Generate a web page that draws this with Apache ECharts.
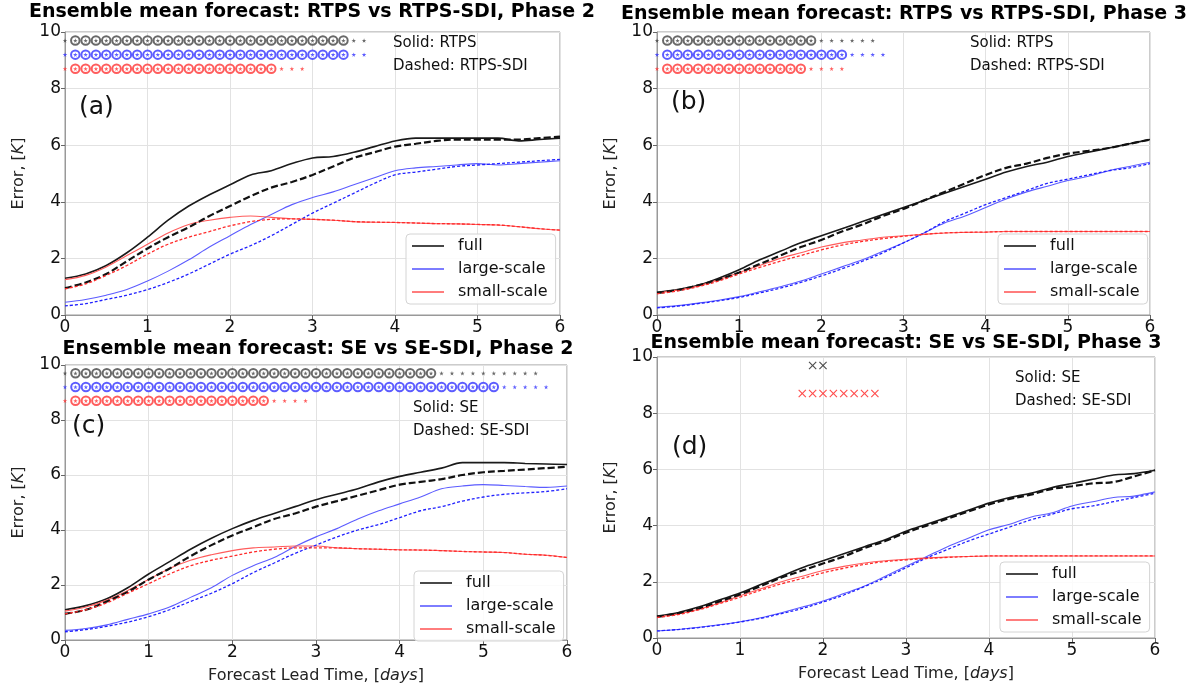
<!DOCTYPE html>
<html>
<head>
<meta charset="utf-8">
<script src="https://cdn.jsdelivr.net/npm/echarts@6/dist/echarts.min.js"></script>
<style>
  html, body { margin: 0; padding: 0; background: #fff; }
  #chart { width: 1192px; height: 691px; }
</style>
</head>
<body>
<div id="chart"></div>
<script>
// lead time (days), one point every 6 h
var leadDays = [0, 0.25, 0.5, 0.75, 1, 1.25, 1.5, 1.75, 2, 2.25, 2.5, 2.75, 3, 3.25, 3.5, 3.75, 4, 4.25, 4.5, 4.75, 5, 5.25, 5.5, 5.75, 6]

// (a) RTPS vs RTPS-SDI, phase 2
var aFullSolid = [1.3, 1.45, 1.75, 2.2, 2.75, 3.35, 3.85, 4.25, 4.6, 4.95, 5.1, 5.35, 5.55, 5.6, 5.75, 5.95, 6.15, 6.25, 6.25, 6.25, 6.25, 6.25, 6.15, 6.2, 6.25]
var aFullDash = [0.95, 1.15, 1.45, 1.9, 2.35, 2.75, 3.1, 3.5, 3.85, 4.2, 4.5, 4.7, 4.95, 5.25, 5.55, 5.75, 5.95, 6.05, 6.15, 6.2, 6.2, 6.2, 6.2, 6.25, 6.3]
var aLargeSolid = [0.45, 0.55, 0.7, 0.9, 1.2, 1.55, 1.95, 2.4, 2.8, 3.2, 3.55, 3.9, 4.15, 4.35, 4.6, 4.85, 5.1, 5.2, 5.25, 5.3, 5.35, 5.3, 5.35, 5.4, 5.45]
var aLargeDash = [0.32, 0.4, 0.55, 0.7, 0.9, 1.15, 1.45, 1.8, 2.15, 2.45, 2.8, 3.2, 3.6, 3.95, 4.3, 4.65, 4.95, 5.05, 5.15, 5.25, 5.3, 5.35, 5.4, 5.45, 5.5]
var aSmallSolid = [1.25, 1.4, 1.7, 2.1, 2.5, 2.9, 3.2, 3.35, 3.45, 3.5, 3.45, 3.4, 3.38, 3.35, 3.3, 3.28, 3.27, 3.25, 3.23, 3.22, 3.2, 3.18, 3.12, 3.05, 3.0]
var aSmallDash = [0.92, 1.1, 1.4, 1.75, 2.15, 2.5, 2.75, 2.95, 3.15, 3.3, 3.38, 3.4, 3.38, 3.35, 3.3, 3.28, 3.27, 3.25, 3.23, 3.22, 3.2, 3.18, 3.12, 3.05, 3.0]

// (b) RTPS vs RTPS-SDI, phase 3
var bFullSolid = [0.8, 0.9, 1.05, 1.3, 1.6, 1.95, 2.25, 2.55, 2.8, 3.05, 3.3, 3.55, 3.8, 4.05, 4.3, 4.55, 4.8, 5.05, 5.25, 5.4, 5.6, 5.75, 5.9, 6.05, 6.2]
var bFullDash = [0.78, 0.88, 1.05, 1.25, 1.5, 1.8, 2.1, 2.4, 2.65, 2.95, 3.2, 3.5, 3.75, 4.05, 4.35, 4.65, 4.95, 5.2, 5.35, 5.55, 5.7, 5.8, 5.9, 6.05, 6.2]
var bLargeSolid = [0.27, 0.33, 0.42, 0.52, 0.65, 0.82, 1.0, 1.2, 1.45, 1.7, 1.95, 2.25, 2.55, 2.9, 3.25, 3.5, 3.8, 4.1, 4.35, 4.55, 4.75, 4.9, 5.1, 5.25, 5.4]
var bLargeDash = [0.25, 0.31, 0.4, 0.5, 0.62, 0.78, 0.95, 1.15, 1.38, 1.63, 1.9, 2.2, 2.55, 2.9, 3.3, 3.6, 3.9, 4.15, 4.4, 4.65, 4.8, 4.95, 5.1, 5.2, 5.35]
var bSmallSolid = [0.78, 0.88, 1.02, 1.25, 1.5, 1.75, 2.0, 2.2, 2.4, 2.55, 2.65, 2.75, 2.8, 2.85, 2.9, 2.92, 2.93, 2.95, 2.95, 2.95, 2.95, 2.95, 2.95, 2.95, 2.95]
var bSmallDash = [0.75, 0.85, 1.0, 1.2, 1.45, 1.68, 1.9, 2.1, 2.3, 2.47, 2.6, 2.7, 2.78, 2.85, 2.9, 2.92, 2.93, 2.95, 2.95, 2.95, 2.95, 2.95, 2.95, 2.95, 2.95]

// (c) SE vs SE-SDI, phase 2
var cFullSolid = [1.1, 1.25, 1.5, 1.9, 2.4, 2.85, 3.3, 3.7, 4.05, 4.35, 4.6, 4.85, 5.1, 5.3, 5.5, 5.75, 5.95, 6.1, 6.25, 6.45, 6.45, 6.45, 6.42, 6.4, 6.38]
var cFullDash = [0.95, 1.1, 1.4, 1.75, 2.2, 2.6, 3.05, 3.45, 3.8, 4.1, 4.4, 4.6, 4.85, 5.05, 5.25, 5.45, 5.65, 5.75, 5.85, 6.0, 6.1, 6.15, 6.2, 6.25, 6.3]
var cLargeSolid = [0.35, 0.42, 0.55, 0.75, 0.95, 1.2, 1.55, 1.9, 2.35, 2.7, 3.0, 3.4, 3.75, 4.05, 4.4, 4.7, 4.95, 5.2, 5.5, 5.6, 5.65, 5.62, 5.58, 5.55, 5.6]
var cLargeDash = [0.3, 0.38, 0.5, 0.65, 0.85, 1.1, 1.4, 1.7, 2.05, 2.45, 2.8, 3.15, 3.45, 3.75, 4.0, 4.2, 4.45, 4.7, 4.85, 5.05, 5.2, 5.3, 5.35, 5.4, 5.5]
var cSmallSolid = [1.05, 1.2, 1.45, 1.8, 2.2, 2.6, 2.9, 3.1, 3.25, 3.35, 3.38, 3.42, 3.42, 3.35, 3.32, 3.3, 3.28, 3.27, 3.25, 3.22, 3.2, 3.18, 3.12, 3.08, 3.0]
var cSmallDash = [0.95, 1.1, 1.35, 1.7, 2.05, 2.4, 2.7, 2.9, 3.05, 3.2, 3.3, 3.35, 3.35, 3.35, 3.32, 3.3, 3.28, 3.27, 3.25, 3.22, 3.2, 3.18, 3.12, 3.08, 3.0]

// (d) SE vs SE-SDI, phase 3
var dFullSolid = [0.78, 0.9, 1.1, 1.35, 1.6, 1.9, 2.2, 2.5, 2.75, 3.0, 3.25, 3.5, 3.8, 4.05, 4.3, 4.55, 4.8, 5.0, 5.15, 5.35, 5.5, 5.65, 5.8, 5.85, 5.97]
var dFullDash = [0.75, 0.88, 1.05, 1.3, 1.55, 1.85, 2.15, 2.4, 2.65, 2.9, 3.2, 3.45, 3.75, 4.0, 4.25, 4.5, 4.75, 4.95, 5.1, 5.3, 5.4, 5.5, 5.55, 5.75, 5.97]
var dLargeSolid = [0.25, 0.3, 0.38, 0.47, 0.58, 0.72, 0.9, 1.1, 1.32, 1.58, 1.85, 2.2, 2.55, 2.9, 3.25, 3.55, 3.85, 4.05, 4.3, 4.45, 4.7, 4.85, 5.0, 5.05, 5.2]
var dLargeDash = [0.25, 0.3, 0.37, 0.46, 0.57, 0.7, 0.87, 1.05, 1.28, 1.53, 1.83, 2.15, 2.5, 2.85, 3.15, 3.45, 3.7, 3.95, 4.2, 4.4, 4.6, 4.7, 4.85, 5.0, 5.15]
var dSmallSolid = [0.75, 0.85, 1.02, 1.25, 1.5, 1.75, 2.0, 2.2, 2.4, 2.55, 2.67, 2.75, 2.8, 2.85, 2.88, 2.9, 2.92, 2.92, 2.92, 2.92, 2.92, 2.92, 2.92, 2.92, 2.92]
var dSmallDash = [0.73, 0.83, 1.0, 1.22, 1.45, 1.7, 1.93, 2.12, 2.32, 2.48, 2.62, 2.72, 2.78, 2.83, 2.87, 2.9, 2.92, 2.92, 2.92, 2.92, 2.92, 2.92, 2.92, 2.92, 2.92]

// significance rows (every 3 h): total markers per row and how many of them (after the first) are circled
// rows: full, large-scale, small-scale
var sigStep = 0.125
var sigRowY = [9.7, 9.2, 8.7]
var aSigTotal = [30, 30, 24]
var aSigCircled = [27, 27, 20]
var bSigTotal = [22, 23, 19]
var bSigCircled = [15, 18, 14]
var cSigTotal = [46, 47, 24]
var cSigCircled = [35, 41, 19]
// panel (d) only has crosses
var dCrossFull = [1.875, 2.0]
var dCrossSmall = [1.75, 1.875, 2.0, 2.125, 2.25, 2.375, 2.5, 2.625]

var panelTitles = [
  'Ensemble mean forecast: RTPS vs RTPS-SDI, Phase 2',
  'Ensemble mean forecast: RTPS vs RTPS-SDI, Phase 3',
  'Ensemble mean forecast: SE vs SE-SDI, Phase 2',
  'Ensemble mean forecast: SE vs SE-SDI, Phase 3'
]
var legendNames = ['full', 'large-scale', 'small-scale']

var FONT = 'DejaVu Sans'
var starPath = 'path://M50,0 L61,35 L98,35 L68,57 L79,91 L50,70 L21,91 L32,57 L2,35 L39,35 Z'
var crossPath = 'path://M1,0 L5,4 L9,0 L10,1 L6,5 L10,9 L9,10 L5,6 L1,10 L0,9 L4,5 L0,1 Z'

var grids = [
  { left: 65, top: 32, width: 495, height: 283 },
  { left: 657, top: 32, width: 493, height: 283 },
  { left: 65, top: 365, width: 502, height: 275 },
  { left: 657, top: 357, width: 498, height: 281 }
]

var lineColors = {
  full: { solid: '#1a1a1a', dash: '#111' },
  large: { solid: '#5c5cff', dash: '#2020ff' },
  small: { solid: '#ff5c5c', dash: '#ff2a2a' }
}
var sigColors = ['#444', '#3535ff', '#ff3535']

function zip (ys) {
  return leadDays.map(function (d, i) { return [d, ys[i]] })
}

function line (gi, name, ys, color, width, dash) {
  return {
    type: 'line',
    name: name,
    xAxisIndex: gi,
    yAxisIndex: gi,
    data: zip(ys),
    smooth: 0.35,
    symbol: 'none',
    showSymbol: false,
    silent: true,
    z: dash ? 3 : 2,
    itemStyle: { color: color },
    lineStyle: { color: color, width: width, type: dash || 'solid' }
  }
}

function panelLines (gi, fs, fd, ls, ld, ss, sd) {
  return [
    line(gi, 'full', fs, lineColors.full.solid, 1.6),
    line(gi, 'large-scale', ls, lineColors.large.solid, 1.1),
    line(gi, 'small-scale', ss, lineColors.small.solid, 1.1),
    line(gi, 'full', fd, lineColors.full.dash, 2.2, [7, 3]),
    line(gi, 'large-scale', ld, lineColors.large.dash, 1.3, [3, 2]),
    line(gi, 'small-scale', sd, lineColors.small.dash, 1.3, [3, 2])
  ]
}

function sigSeries (gi, totals, circled) {
  var out = []
  totals.forEach(function (n, r) {
    var stars = []
    var rings = []
    for (var i = 0; i < n; i++) {
      stars.push([i * sigStep, sigRowY[r]])
      if (i >= 1 && i <= circled[r]) rings.push([i * sigStep, sigRowY[r]])
    }
    out.push({
      type: 'scatter', xAxisIndex: gi, yAxisIndex: gi, silent: true, z: 5,
      symbol: 'emptyCircle', symbolSize: 8.5, data: rings,
      itemStyle: { color: sigColors[r], borderColor: sigColors[r], borderWidth: 1.4 }
    })
    out.push({
      type: 'scatter', xAxisIndex: gi, yAxisIndex: gi, silent: true, z: 6,
      symbol: starPath, symbolSize: 4.5, data: stars,
      itemStyle: { color: sigColors[r] }
    })
  })
  return out
}

function crossSeries (gi, xs, y, color) {
  return {
    type: 'scatter', xAxisIndex: gi, yAxisIndex: gi, silent: true, z: 6,
    symbol: crossPath, symbolSize: 8,
    data: xs.map(function (x) { return [x, y] }),
    itemStyle: { color: color }
  }
}

var series = []
  .concat(panelLines(0, aFullSolid, aFullDash, aLargeSolid, aLargeDash, aSmallSolid, aSmallDash))
  .concat(panelLines(1, bFullSolid, bFullDash, bLargeSolid, bLargeDash, bSmallSolid, bSmallDash))
  .concat(panelLines(2, cFullSolid, cFullDash, cLargeSolid, cLargeDash, cSmallSolid, cSmallDash))
  .concat(panelLines(3, dFullSolid, dFullDash, dLargeSolid, dLargeDash, dSmallSolid, dSmallDash))
  .concat(sigSeries(0, aSigTotal, aSigCircled))
  .concat(sigSeries(1, bSigTotal, bSigCircled))
  .concat(sigSeries(2, cSigTotal, cSigCircled))
series.push(crossSeries(3, dCrossFull, sigRowY[0], '#222'))
series.push(crossSeries(3, dCrossSmall, sigRowY[2], '#ff2020'))

var italic = { i: { fontStyle: 'italic', fontFamily: FONT, fontSize: 16, color: '#222' } }

var xAxes = grids.map(function (g, i) {
  var bottom = i >= 2
  return {
    gridIndex: i, type: 'value', min: 0, max: 6, interval: 1,
    name: bottom ? 'Forecast Lead Time, [{i|days}]' : '',
    nameLocation: 'middle', nameGap: 28,
    nameTextStyle: { fontFamily: FONT, fontSize: 16, color: '#222', rich: italic },
    axisLine: { show: true, lineStyle: { color: '#999' } },
    axisTick: { show: true, length: 4, lineStyle: { color: '#666' } },
    axisLabel: { fontFamily: FONT, fontSize: 17, color: '#111', margin: 4 },
    splitLine: { show: true, lineStyle: { color: '#e2e2e2' } }
  }
})

var yAxes = grids.map(function (g, i) {
  return {
    gridIndex: i, type: 'value', min: 0, max: 10, interval: 2,
    name: 'Error, [{i|K}]', nameLocation: 'middle', nameGap: 38,
    nameTextStyle: { fontFamily: FONT, fontSize: 16, color: '#222', rich: italic },
    axisLine: { show: true, lineStyle: { color: '#999' } },
    axisTick: { show: true, length: 4, lineStyle: { color: '#666' } },
    axisLabel: { fontFamily: FONT, fontSize: 17, color: '#111', margin: 4 },
    splitLine: { show: true, lineStyle: { color: '#e2e2e2' } }
  }
})

var titleSpots = [[312, 3], [904, 5], [318, 340], [906, 334]]
var titles = panelTitles.map(function (t, i) {
  return {
    text: t, left: titleSpots[i][0], top: titleSpots[i][1], textAlign: 'center', padding: 0,
    textStyle: { fontFamily: FONT, fontSize: 19, fontWeight: 'bold', color: '#000' }
  }
})

var legendSpots = [[406, 234], [998, 234], [414, 571], [1000, 562]]
var legends = legendSpots.map(function (p) {
  return {
    data: legendNames, orient: 'vertical', left: p[0], top: p[1],
    icon: 'rect', itemWidth: 32, itemHeight: 1.6, itemGap: 5, padding: [3, 8, 3, 6],
    borderColor: '#d4d4d4', borderWidth: 1, borderRadius: 4,
    backgroundColor: 'rgba(255,255,255,0.85)',
    selectedMode: false,
    textStyle: { fontFamily: FONT, fontSize: 16, lineHeight: 18, color: '#111', padding: [0, 0, 0, 9] }
  }
})

function label (x, y, text, size) {
  return { type: 'text', x: x, y: y, z: 20, style: { text: text, fontFamily: FONT, fontSize: size, fill: '#111' } }
}

var notes = [
  label(393, 36, 'Solid: RTPS', 15), label(393, 59, 'Dashed: RTPS-SDI', 15),
  label(970, 36, 'Solid: RTPS', 15), label(970, 59, 'Dashed: RTPS-SDI', 15),
  label(413, 401, 'Solid: SE', 15), label(413, 424, 'Dashed: SE-SDI', 15),
  label(1015, 371, 'Solid: SE', 15), label(1015, 394, 'Dashed: SE-SDI', 15),
  label(79, 95, '(a)', 25), label(671, 90, '(b)', 25),
  label(72, 414, '(c)', 25), label(672, 435, '(d)', 25)
]

var chart = echarts.init(document.getElementById('chart'), null, { renderer: 'canvas' })
chart.setOption({
  animation: false,
  backgroundColor: '#fff',
  title: titles,
  legend: legends,
  grid: grids.map(function (g) {
    return Object.assign({ show: true, borderColor: '#999', borderWidth: 1, backgroundColor: 'transparent' }, g)
  }),
  xAxis: xAxes,
  yAxis: yAxes,
  series: series,
  graphic: notes
})
</script>
</body>
</html>
